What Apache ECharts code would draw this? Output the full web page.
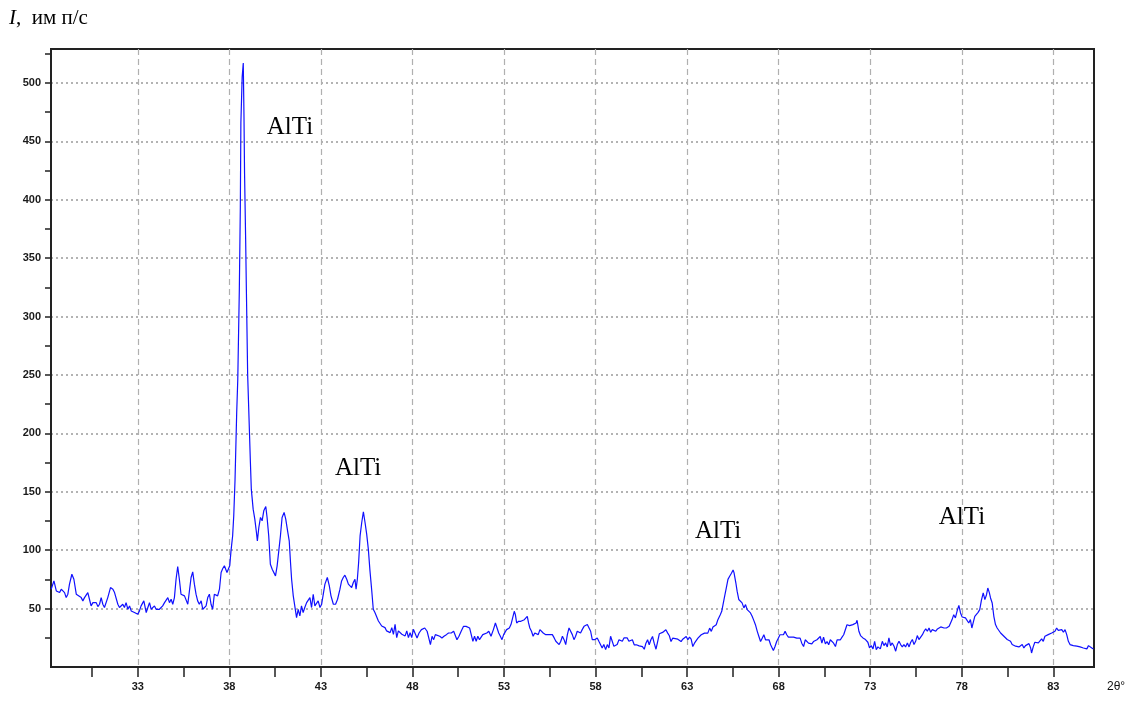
<!DOCTYPE html>
<html>
<head>
<meta charset="utf-8">
<script src="https://cdn.jsdelivr.net/npm/echarts@6/dist/echarts.min.js"></script>
<style>
html,body{margin:0;padding:0;background:#fff;}
#chart{width:1138px;height:703px;}
</style>
</head>
<body>
<div id="chart"></div>
<script>
// 2θ (degrees) sample positions
const twoTheta = [
28.27,28.42,28.55,28.73,28.82,29.00,29.09,29.18,29.27,29.40,29.51,29.64,29.73,29.91,30.00,30.09,30.18,30.27,30.36,30.45,
30.55,30.64,30.73,30.82,30.91,31.00,31.09,31.18,31.27,31.36,31.51,31.64,31.73,31.82,31.91,32.00,32.09,32.18,32.27,32.36,
32.46,32.55,32.64,32.73,32.82,32.91,33.00,33.09,33.18,33.33,33.46,33.55,33.64,33.73,33.82,33.91,34.00,34.09,34.18,34.27,
34.36,34.46,34.55,34.64,34.73,34.82,34.91,35.00,35.09,35.18,35.27,35.36,35.46,35.55,35.64,35.73,35.82,35.91,36.00,36.09,
36.18,36.27,36.36,36.46,36.55,36.64,36.73,36.82,36.91,37.00,37.09,37.18,37.27,37.36,37.46,37.55,37.64,37.73,37.82,37.87,
37.95,38.02,38.09,38.18,38.24,38.31,38.40,38.46,38.545,38.60,38.63,38.70,38.76,38.80,38.83,38.89,38.93,39.00,39.07,39.15,
39.20,39.30,39.39,39.48,39.53,39.61,39.70,39.79,39.88,39.99,40.06,40.15,40.24,40.34,40.43,40.52,40.61,40.70,40.79,40.88,
40.99,41.08,41.18,41.27,41.34,41.40,41.49,41.58,41.67,41.76,41.85,41.94,42.03,42.12,42.22,42.31,42.40,42.49,42.58,42.67,
42.76,42.85,42.95,43.04,43.13,43.22,43.35,43.46,43.55,43.68,43.80,43.91,44.04,44.13,44.22,44.31,44.41,44.50,44.59,44.68,
44.77,44.86,44.92,44.99,45.06,45.14,45.23,45.32,45.41,45.50,45.59,45.68,45.77,45.86,45.95,46.05,46.14,46.23,46.32,46.41,
46.50,46.59,46.68,46.78,46.87,46.96,47.05,47.14,47.23,47.32,47.42,47.51,47.60,47.69,47.78,47.87,47.96,48.05,48.13,48.25,
48.36,48.49,48.58,48.67,48.80,48.89,48.98,49.07,49.16,49.25,49.34,49.49,49.61,49.72,49.85,49.97,50.12,50.25,50.34,50.43,
50.54,50.66,50.79,50.93,51.03,51.12,51.21,51.30,51.39,51.48,51.57,51.66,51.75,51.84,51.93,52.06,52.17,52.29,52.42,52.53,
52.62,52.71,52.80,52.89,52.98,53.07,53.14,53.22,53.29,53.38,53.47,53.56,53.62,53.69,53.80,53.92,54.01,54.11,54.20,54.27,
54.34,54.41,54.50,54.59,54.68,54.78,54.87,54.96,55.05,55.14,55.28,55.46,55.64,55.74,55.83,55.92,56.01,56.10,56.19,56.28,
56.37,56.46,56.55,56.64,56.73,56.82,56.91,57.00,57.09,57.18,57.27,57.37,57.46,57.55,57.64,57.73,57.82,57.95,58.09,58.18,
58.27,58.36,58.45,58.55,58.64,58.73,58.82,58.91,59.00,59.09,59.18,59.28,59.37,59.46,59.55,59.64,59.73,59.82,59.91,60.01,
60.11,60.23,60.38,60.47,60.56,60.66,60.75,60.84,60.93,61.02,61.11,61.20,61.30,61.39,61.48,61.57,61.66,61.75,61.84,61.94,
62.03,62.12,62.21,62.30,62.49,62.67,62.76,62.85,62.95,63.04,63.13,63.22,63.31,63.40,63.49,63.59,63.68,63.77,63.86,63.95,
64.04,64.13,64.23,64.32,64.41,64.50,64.59,64.68,64.74,64.81,64.89,64.96,65.05,65.14,65.23,65.33,65.42,65.51,65.56,65.66,
65.73,65.82,65.91,66.00,66.10,66.19,66.28,66.37,66.46,66.55,66.64,66.73,66.83,66.92,67.01,67.10,67.19,67.28,67.38,67.47,
67.56,67.65,67.71,67.80,67.89,67.98,68.07,68.16,68.26,68.35,68.44,68.53,68.62,68.81,68.99,69.08,69.17,69.26,69.36,69.45,
69.54,69.63,69.72,69.81,69.90,70.00,70.09,70.18,70.27,70.36,70.45,70.55,70.64,70.73,70.82,70.91,71.00,71.10,71.19,71.28,
71.37,71.46,71.55,71.64,71.73,71.87,72.05,72.23,72.28,72.38,72.47,72.60,72.74,72.87,72.96,73.05,73.15,73.24,73.33,73.42,
73.55,73.66,73.75,73.84,73.93,74.02,74.11,74.20,74.30,74.39,74.48,74.57,74.66,74.75,74.84,74.93,75.03,75.12,75.21,75.30,
75.39,75.48,75.57,75.66,75.76,75.85,75.94,76.03,76.12,76.21,76.30,76.39,76.49,76.58,76.67,76.76,76.85,76.94,77.03,77.16,
77.31,77.40,77.47,77.56,77.65,77.74,77.84,77.93,78.02,78.11,78.20,78.29,78.38,78.47,78.55,78.62,78.71,78.80,78.89,78.98,
79.07,79.17,79.26,79.35,79.42,79.50,79.57,79.66,79.75,79.84,79.93,80.03,80.12,80.21,80.30,80.39,80.48,80.57,80.66,80.75,
80.85,80.94,81.03,81.12,81.21,81.30,81.39,81.48,81.58,81.67,81.76,81.81,81.90,81.99,82.09,82.18,82.27,82.36,82.45,82.54,
82.63,82.72,82.82,82.91,83.00,83.09,83.18,83.27,83.36,83.46,83.55,83.64,83.73,83.82,83.91,84.00,84.09,84.19,84.28,84.37,
84.46,84.55,84.64,84.74,84.83,84.92,85.01,85.10,85.19
];
// Intensity (imp/s)
const intensity = [
66.6,73.7,65.1,63.7,66.6,63.7,59.4,62.3,70.9,79.4,75.1,62.3,60.9,59.4,56.6,59.4,60.9,63.7,58.0,52.3,
55.1,53.7,55.1,51.7,53.7,59.4,53.7,50.9,52.3,59.4,68.0,66.6,63.7,62.3,53.7,50.9,52.3,53.7,50.9,55.1,
49.4,52.3,48.0,49.4,46.6,48.0,45.1,48.0,52.3,56.6,46.6,50.9,55.1,49.4,48.0,52.3,49.4,48.0,49.4,50.9,
52.3,55.1,56.6,59.4,55.1,58.0,53.7,59.4,75.1,86.0,75.1,62.3,60.9,60.9,62.3,53.7,65.1,76.6,81.4,70.9,
62.3,56.6,53.7,56.6,49.4,48.0,52.3,59.4,62.3,53.7,49.4,62.3,63.7,60.9,66.6,80.9,84.3,86.6,85.1,80.9,
79.4,86.6,99.4,112.3,129.4,160,217,246,323,394,466,505,517,470,423,366,323,250,215,175,
152,135.1,126.6,115.1,108.0,119.4,128.0,125.1,133.7,137.4,128.0,112.3,88.0,83.7,82.3,78.0,86.6,99.4,112.3,128.0,
132.3,126.6,116.6,108.0,89.4,75.1,60.9,59.4,42.3,49.4,43.7,52.3,46.6,50.9,55.1,53.7,59.4,50.9,62.3,52.3,
50.9,56.6,50.9,53.7,62.3,70.9,76.6,69.4,60.9,53.7,53.7,58.0,66.6,73.7,76.6,78.6,75.1,70.9,72.3,68.0,
72.3,75.1,66.6,75.1,89.4,112.3,123.7,132.9,123.7,113.7,100.9,82.3,66.6,49.4,46.6,48.0,39.4,38.0,35.1,35.1,
33.7,30.9,32.3,29.4,33.7,28.0,36.6,25.1,30.9,29.4,28.0,29.4,26.6,30.9,25.1,29.4,25.1,32.3,32.0,24.9,
29.1,32.0,30.6,33.4,30.6,24.9,19.2,26.3,23.4,27.7,26.3,26.3,24.9,26.3,27.7,29.1,29.1,30.6,29.1,23.4,
26.3,30.6,34.8,34.8,33.4,33.4,27.7,22.0,26.3,22.0,26.3,23.4,24.9,27.7,26.3,29.1,30.6,26.3,32.0,37.7,
33.4,29.1,26.3,23.4,27.7,29.1,32.0,30.6,33.4,36.3,36.3,47.7,44.8,37.7,39.1,39.1,40.5,40.5,42.0,43.4,
37.7,33.4,30.6,26.3,29.1,30.6,27.7,32.0,33.4,29.1,27.7,27.7,27.7,24.9,22.0,23.4,19.2,22.0,26.3,23.4,
19.2,27.7,33.4,32.0,27.7,23.4,26.3,30.6,32.0,29.1,32.0,34.8,36.3,36.3,34.8,30.6,23.4,23.4,24.9,22.0,
23.4,16.3,19.2,14.9,19.2,16.3,26.3,22.0,17.7,19.2,19.2,23.4,22.0,22.0,24.9,23.4,24.9,22.0,23.4,23.3,
19.0,19.0,18.1,19.5,17.5,15.2,20.4,23.3,19.0,23.3,26.1,20.4,15.2,21.8,28.4,27.6,29.6,30.5,31.9,29.0,
26.7,21.8,24.7,23.8,23.8,21.8,23.8,24.7,26.1,23.3,25.6,23.8,17.5,20.4,21.8,24.7,23.8,27.6,26.7,29.0,
30.5,29.0,33.3,30.5,34.2,32.5,36.2,40.5,39.1,44.8,47.7,53.4,60.6,67.8,75.0,77.9,80.2,83.1,80.8,72.1,
64.9,57.8,56.3,54.9,50.6,53.4,49.1,47.7,46.3,43.4,39.9,36.2,30.5,26.1,21.8,24.7,27.6,23.3,21.8,23.3,
19.0,16.1,14.1,17.5,21.8,24.7,27.6,29.0,27.6,30.5,27.6,25.6,26.1,25.6,24.7,26.1,24.7,20.4,17.5,23.3,
21.8,20.4,21.8,19.8,21.8,20.4,23.3,21.8,26.1,20.4,25.6,19.8,21.8,19.0,23.3,24.7,20.4,17.5,23.3,24.7,
23.3,25.6,27.6,31.9,36.2,35.4,36.3,37.7,40.0,30.6,26.9,24.9,23.5,21.2,16.3,18.3,15.5,22.0,14.9,17.2,
15.5,22.0,18.3,20.6,17.2,24.9,18.3,20.6,17.8,13.5,19.2,22.0,19.2,17.2,19.2,17.2,20.6,17.2,21.2,23.5,
19.2,22.0,26.9,23.5,24.9,27.7,30.6,32.6,30.6,33.4,29.7,32.0,31.4,30.6,32.6,31.4,34.3,35.4,33.4,33.4,
34.9,35.4,40.6,44.8,42.0,47.7,52.8,46.3,42.8,44.0,42.0,42.8,37.7,40.6,33.4,37.7,43.4,42.0,46.8,49.1,
57.1,63.4,57.7,61.9,67.6,63.9,59.1,54.8,43.4,36.3,33.4,32.0,29.1,30.6,26.3,27.7,23.5,24.0,22.0,19.2,
20.0,17.8,18.3,17.2,17.2,19.2,16.3,18.3,17.2,20.0,16.3,12.0,17.2,21.2,20.6,20.6,21.2,24.0,22.0,26.3,
25.7,27.7,28.6,29.1,30.6,30.6,33.4,31.4,30.6,32.0,29.7,32.0,27.7,22.0,19.2,19.2,18.3,17.2,17.8,17.2,
17.2,17.8,16.3,17.8,15.5,18.3,17.2,16.3,15.5
];
// Axis tick / label values
const xTicks = [30.5,33,35.5,38,40.5,43,45.5,48,50.5,53,55.5,58,60.5,63,65.5,68,70.5,73,75.5,78,80.5,83];
const xLabels = [33,38,43,48,53,58,63,68,73,78,83];
const yTicks = [25,50,75,100,125,150,175,200,225,250,275,300,325,350,375,400,425,450,475,500,525];
const yLabels = [50,100,150,200,250,300,350,400,450,500];
const X_MIN = 28.26, X_MAX = 85.22, Y_MIN = 0, Y_MAX = 529;
// Peak annotations
const peakNames = ['AlTi','AlTi','AlTi','AlTi'];
const peakX = [41.31, 45.03, 64.69, 78.01];
const peakY = [462, 170, 116, 128];

const data = twoTheta.map((t, i) => [t, intensity[i]]);
const narrow = "'Liberation Sans Narrow', 'Liberation Sans', Arial, sans-serif";
const serif = "'Liberation Serif', 'Times New Roman', serif";

const chart = echarts.init(document.getElementById('chart'), null, {renderer: 'canvas'});
chart.setOption({
  animation: false,
  backgroundColor: '#fff',
  grid: {left: 51, top: 49, right: 44, bottom: 36, show: true, borderColor: '#222', borderWidth: 2, backgroundColor: 'transparent'},
  xAxis: [
    {
      type: 'value', min: X_MIN, max: X_MAX, position: 'bottom',
      axisLine: {show: true, onZero: false, lineStyle: {color: '#222', width: 2}},
      axisTick: {show: true, customValues: xTicks, length: 10, lineStyle: {color: '#222', width: 1.5}},
      axisLabel: {customValues: xLabels, margin: 14, fontSize: 11, fontWeight: 'bold', color: '#1a1a1a', fontFamily: narrow},
      splitLine: {show: false}
    },
    {
      type: 'value', min: X_MIN, max: X_MAX, position: 'bottom',
      axisLine: {show: false}, axisTick: {show: false, customValues: xLabels},
      axisLabel: {show: false, customValues: xLabels},
      splitLine: {show: true, lineStyle: {color: '#b0b0b0', width: 1.2, type: [6, 4]}}
    }
  ],
  yAxis: [
    {
      type: 'value', min: Y_MIN, max: Y_MAX, position: 'left',
      axisLine: {show: true, onZero: false, lineStyle: {color: '#222', width: 2}},
      axisTick: {show: true, customValues: yTicks, length: 6, lineStyle: {color: '#222', width: 1.5}},
      axisLabel: {customValues: yLabels, margin: 10, fontSize: 11, fontWeight: 'bold', color: '#1a1a1a', fontFamily: narrow},
      splitLine: {show: false}
    },
    {
      type: 'value', min: Y_MIN, max: Y_MAX, position: 'left',
      axisLine: {show: false}, axisTick: {show: false, customValues: yLabels},
      axisLabel: {show: false, customValues: yLabels},
      splitLine: {show: true, lineStyle: {color: '#9a9a9a', width: 1.5, type: [2, 3]}}
    }
  ],
  series: [{
    type: 'line', data: data, xAxisIndex: 0, yAxisIndex: 0,
    showSymbol: false, symbol: 'none',
    lineStyle: {color: '#1010ff', width: 1.2},
    z: 5,
    markPoint: {
      symbol: 'circle', symbolSize: 1,
      itemStyle: {color: 'rgba(0,0,0,0)'},
      label: {show: true, position: 'inside', color: '#000', fontSize: 25, fontFamily: serif, formatter: p => p.name},
      data: peakNames.map((n, i) => ({name: n, coord: [peakX[i], peakY[i]]}))
    }
  }],
  graphic: [
    {
      type: 'text', left: 9, top: 8,
      style: {
        text: '{i|I}{t|,  им п/с}',
        rich: {
          i: {fontFamily: serif, fontStyle: 'italic', fontSize: 21, fill: '#000'},
          t: {fontFamily: serif, fontSize: 21, fill: '#000'}
        }
      }
    },
    {
      type: 'text', left: 1107, top: 681,
      style: {text: '2θ°', fontFamily: narrow, fontSize: 12, fill: '#111'}
    }
  ]
});
</script>
</body>
</html>
